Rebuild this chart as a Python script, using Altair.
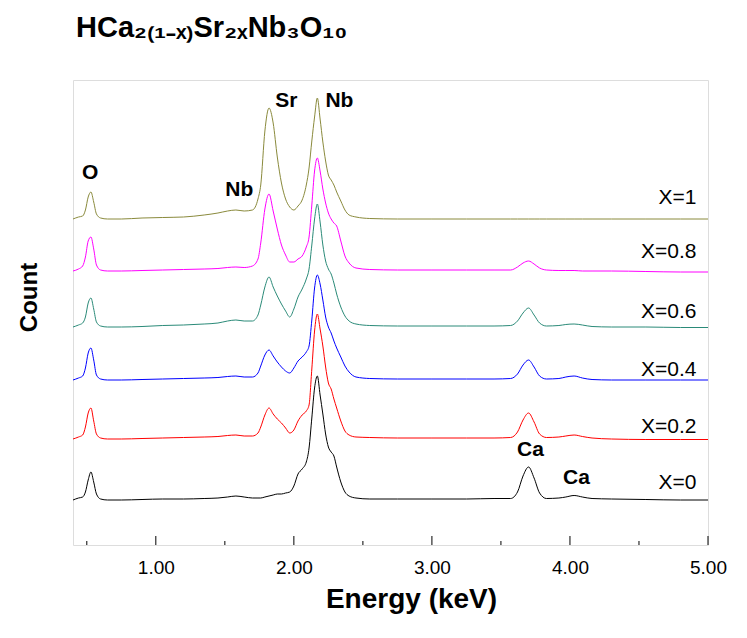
import altair as alt
import pandas as pd

# Energy grid (keV) shared by all spectra
energy = [0.40, 0.44, 0.47, 0.49, 0.51, 0.53, 0.55, 0.57, 0.60, 0.65, 0.75, 0.90,
          1.05, 1.20, 1.35, 1.45, 1.52, 1.58, 1.64, 1.70, 1.74, 1.76, 1.79, 1.82,
          1.85, 1.88, 1.91, 1.94, 1.97, 2.00, 2.03, 2.06, 2.09, 2.11, 2.13, 2.15,
          2.17, 2.19, 2.21, 2.23, 2.25, 2.27, 2.29, 2.31, 2.34, 2.37, 2.40, 2.45,
          2.55, 2.75, 3.00, 3.25, 3.45, 3.57, 3.62, 3.66, 3.70, 3.74, 3.78, 3.83,
          3.92, 3.97, 4.03, 4.09, 4.16, 4.30, 4.55, 4.80, 5.00]

# Counts above each spectrum's own baseline (arbitrary units)
x_0 = [0, 2, 3, 8, 20, 28, 18, 6, 1, 0, 0, 0.5,
       1, 1, 1.5, 2, 3, 4, 3, 2, 2, 2, 3, 4,
       5, 6, 6, 7, 8, 14, 26, 31, 38, 52, 82, 112,
       124, 105, 86, 66, 53, 48, 44, 33, 18, 8, 4, 2,
       1, 1, 1, 1, 1.5, 1.5, 8, 24, 33, 22, 7, 1.5,
       2, 3, 4.5, 3, 1.5, 1, 0.5, 0, 0]
x_02 = [0, 2, 4, 12, 26, 31, 18, 5, 1, 0, 0, 0.5,
        1, 1.5, 2, 2.5, 3.5, 4, 3, 3, 6, 12, 24, 31,
        25, 20, 16, 11, 6, 9, 18, 24, 28, 34, 70, 108,
        125, 110, 93, 72, 56, 50, 40, 31, 18, 8, 4, 2,
        1.5, 1, 1, 1, 1, 1.5, 7, 19, 26, 17, 5, 1.5,
        2, 3, 4, 2.5, 1, 0, -0.5, -0.5, -0.5]
x_04 = [0, 2, 4, 12, 27, 32, 20, 5, 1, 0, 0, 0.5,
        1, 1.5, 2, 2.5, 3.5, 4, 3, 3, 7, 14, 25, 30,
        24, 18, 13, 9, 7, 12, 19, 23, 28, 34, 60, 92,
        105, 96, 80, 63, 53, 47, 39, 32, 23, 14, 8, 3,
        1.5, 1, 1, 1, 1, 1.5, 6, 15, 20, 13, 4, 1,
        1.5, 3, 4, 2, 0.5, 0, 0, 0, 0]
x_06 = [0, 2, 4, 10, 24, 29, 18, 5, 1, 0, 0, 0.5,
        1.5, 2, 3, 4, 6, 7, 6, 6, 12, 22, 40, 50,
        40, 31, 23, 16, 10, 18, 30, 38, 48, 58, 82, 108,
        123, 105, 82, 66, 58, 53, 44, 33, 20, 11, 6, 3,
        1.5, 1, 1, 1, 1, 1.5, 6, 14, 19, 12, 4, 1,
        1.5, 2.5, 3, 2, 0.5, 0, 0, -0.5, -0.5]
x_08 = [0, 2, 5, 14, 30, 34, 22, 6, 1, 0, 0, 0.5,
        1, 1.5, 2, 2.5, 3.5, 4, 3.5, 5, 12, 28, 62, 77,
        60, 42, 26, 16, 9, 9, 12, 15, 24, 34, 66, 100,
        113, 100, 82, 68, 58, 52, 48, 45, 30, 15, 8, 3,
        1.5, 1, 1, 1, 1, 1, 4, 8, 10, 7, 3, 1,
        0.5, 0.5, 0.5, 0, 0, 0, -0.5, -1, -1]
x_1 = [0, 2, 3, 9, 22, 27, 17, 5, 1, 0, 0, 1,
       1.5, 2, 4, 6, 8, 9, 8, 9, 20, 34, 88, 111,
       96, 62, 36, 20, 12, 9, 13, 19, 34, 51, 78, 102,
       121, 100, 77, 58, 44, 39, 34, 27, 18, 9, 4, 2,
       0.5, 0, 0, 0, 0, 0, 0, 0, 0, 0, 0, 0,
       0, 0, 0, 0, 0, 0, 0, 0, 0]

series = ["X=0", "X=0.2", "X=0.4", "X=0.6", "X=0.8", "X=1"]
offsets = [45, 106, 165, 218, 274, 326]
values = [x_0, x_02, x_04, x_06, x_08, x_1]
colors = ["#000000", "#FF0000", "#0000FF", "#2A8A78", "#FF00FF", "#8A8A3C"]

# Series labels (anchor in data units)
label_energy = [4.917] * 6
label_count = [62, 118, 175, 233, 293, 347]

# Peak labels
peak_text = ["O", "Nb", "Sr", "Nb", "Ca", "Ca"]
peak_energy = [0.525, 1.605, 1.946, 2.33, 3.714, 4.047]
peak_count = [372, 355, 444, 444, 95, 67]

major_ticks = [1, 2, 3, 4, 5]
minor_ticks = [0.5, 1.5, 2.5, 3.5, 4.5]

rows = []
for name, off, vals in zip(series, offsets, values):
    for e, v in zip(energy, vals):
        rows.append({"energy": e, "count": off + v, "series": name})
df = pd.DataFrame(rows)

lab_df = pd.DataFrame({"text": series, "energy": label_energy, "count": label_count})
peak_df = pd.DataFrame({"text": peak_text, "energy": peak_energy, "count": peak_count})
major_df = pd.DataFrame({"t": major_ticks})
minor_df = pd.DataFrame({"t": minor_ticks})

FONT = "Liberation Sans"
xscale = alt.Scale(domain=[0.4, 5.0], nice=False, zero=False)
yscale = alt.Scale(domain=[0, 465], nice=False, zero=False)

xaxis = alt.Axis(values=major_ticks, format=".2f", ticks=False, tickSize=0, domain=False,
                 grid=False, labelFont=FONT, labelFontSize=19, labelColor="black",
                 labelPadding=13, labelFlush=False,
                 title="Energy (keV)", titleFont=FONT, titleFontSize=28,
                 titleFontWeight="bold", titleColor="black", titlePadding=8, titleX=338)
yaxis = alt.Axis(labels=False, ticks=False, domain=False, grid=False,
                 title="Count", titleFont=FONT, titleFontSize=24, titleFontWeight="bold",
                 titleColor="black", titlePadding=32, titleY=217)

lines = alt.Chart(df).mark_line(strokeWidth=1, interpolate="monotone").encode(
    x=alt.X("energy:Q", scale=xscale, axis=xaxis),
    y=alt.Y("count:Q", scale=yscale, axis=yaxis),
    color=alt.Color("series:N", scale=alt.Scale(domain=series, range=colors), legend=None),
    detail="series:N",
)

labels = alt.Chart(lab_df).mark_text(align="right", baseline="middle", font=FONT,
                                     fontSize=21, color="black").encode(
    x=alt.X("energy:Q", scale=xscale), y=alt.Y("count:Q", scale=yscale), text="text:N")

peaks = alt.Chart(peak_df).mark_text(align="center", baseline="middle", font=FONT,
                                     fontSize=21, fontWeight="bold", color="black").encode(
    x=alt.X("energy:Q", scale=xscale), y=alt.Y("count:Q", scale=yscale), text="text:N")

major = alt.Chart(major_df).mark_rule(color="black", strokeWidth=1).encode(
    x=alt.X("t:Q", scale=xscale), y=alt.value(465), y2=alt.value(456))
minor = alt.Chart(minor_df).mark_rule(color="black", strokeWidth=1).encode(
    x=alt.X("t:Q", scale=xscale), y=alt.value(465), y2=alt.value(461))

chart = alt.layer(lines, labels, peaks, major, minor).properties(
    width=635, height=465,
    padding={"left": 73, "top": 80, "right": 39, "bottom": 93},
    autosize=alt.AutoSizeParams(type="none"),
    title=alt.TitleParams(text="HCa₂₍₁₋ₓ₎Sr₂ₓNb₃O₁₀", anchor="start", frame="group",
                          font=FONT, fontSize=29, fontWeight="bold", color="black",
                          offset=37, dx=3),
).configure_view(stroke="black", strokeWidth=1).configure(background="white")

chart.save("out.html", embed_options={"renderer": "svg", "actions": False})
